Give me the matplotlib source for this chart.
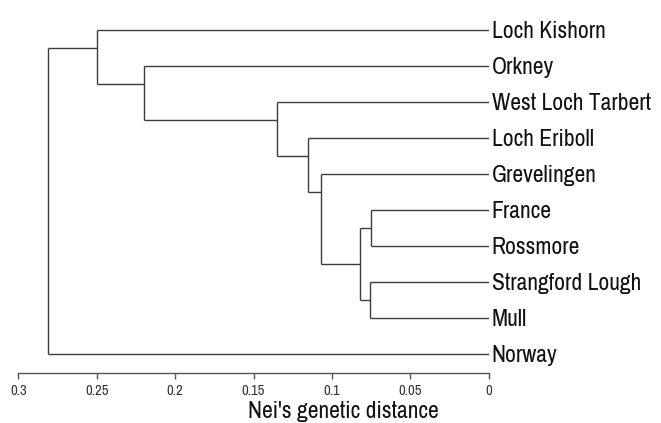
import matplotlib
matplotlib.use("Agg")
from matplotlib import pyplot as plt
from matplotlib import font_manager as fm

# feuilles du dendrogramme (de haut en bas)
leaves = ["Loch Kishorn", "Orkney", "West Loch Tarbert", "Loch Eriboll", "Grevelingen",
          "France", "Rossmore", "Strangford Lough", "Mull", "Norway"]

# fusions : (enfant haut, enfant bas, distance) ; les noeuds internes sont numérotés à partir de 10
merge_top = [5, 7, 10, 4, 3, 2, 1, 0, 17]
merge_bottom = [6, 8, 11, 12, 13, 14, 15, 16, 9]
merge_height = [0.075, 0.076, 0.082, 0.107, 0.115, 0.135, 0.220, 0.250, 0.281]

ticks = [0.3, 0.25, 0.2, 0.15, 0.1, 0.05, 0]
tick_labels = ["0.3", "0.25", "0.2", "0.15", "0.1", "0.05", "0"]

# police étroite si disponible, sinon Liberation Sans plus petite
installed = set(f.name for f in fm.fontManager.ttflist)
if "Archivo Narrow" in installed:
    narrow = ["Archivo Narrow", "Liberation Sans", "DejaVu Sans"]
    big = 17
    small = 10.5
else:
    narrow = ["Liberation Sans", "DejaVu Sans"]
    big = 14
    small = 8.5
line_col = "#3c3c3c"

fig = plt.figure(figsize=(6.61, 4.23), dpi=100)
ax = fig.add_axes([18.3 / 661, 1 - 373 / 423, (488.7 - 18.3) / 661, (373 - 12) / 423])

n = len(leaves)
pos = {i: float(i) for i in range(n)}
height = {i: 0.0 for i in range(n)}
first = {i: i for i in range(n)}
last = {i: i for i in range(n)}

for k in range(len(merge_top)):
    a = merge_top[k]
    b = merge_bottom[k]
    h = merge_height[k]
    node = n + k
    # horizontales des deux enfants
    ax.plot([height[a], h], [pos[a], pos[a]], color=line_col, lw=1.0, solid_capstyle="butt")
    ax.plot([height[b], h], [pos[b], pos[b]], color=line_col, lw=1.0, solid_capstyle="butt")
    # verticale
    ax.plot([h, h], [pos[a], pos[b]], color=line_col, lw=1.0, solid_capstyle="butt")
    first[node] = first[a]
    last[node] = last[b]
    pos[node] = (last[a] + first[b]) / 2
    height[node] = h

for i, name in enumerate(leaves):
    ax.text(-0.002, i, name, ha="left", va="center_baseline", fontsize=big,
            family=narrow, color="#111111", clip_on=False)

ax.set_xlim(0.3, 0)
ax.set_ylim(9.53, -0.5)
ax.set_xticks(ticks)
ax.set_xticklabels(tick_labels, family=narrow, fontsize=small, color="#333333")
ax.set_yticks([])
for s in ["top", "left", "right"]:
    ax.spines[s].set_visible(False)
ax.spines["bottom"].set_color("#555555")
ax.spines["bottom"].set_linewidth(1.0)
ax.tick_params(axis="x", direction="out", length=4, width=1.0, color="#555555", pad=4)

fig.text(343 / 661, 1 - 418 / 423, "Nei's genetic distance", ha="center", va="baseline",
         fontsize=big, family=narrow, color="#111111")

fig.savefig("out.png", dpi=100)
